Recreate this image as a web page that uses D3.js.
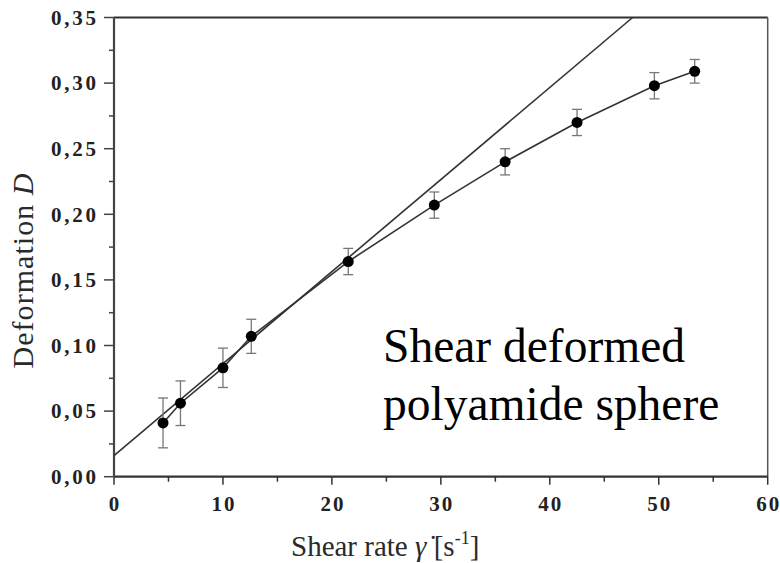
<!DOCTYPE html>
<html>
<head>
<meta charset="utf-8">
<script src="https://cdn.jsdelivr.net/npm/d3@7"></script>
<style>
	body { margin: 0; background: #fff; }
	svg { display: block; }
	.tick-label { font-family: 'Liberation Serif', 'Times New Roman', serif; font-weight: bold; fill: #222; }
	.axis-title { font-family: 'Liberation Serif', 'Times New Roman', serif; fill: #2a2a2a; }
</style>
</head>
<body>
<div id="chart"></div>
<script>

// measured points (shear rate in 1/s, deformation D, error bar half height)
var shearRate = [4.5, 6.1, 10.0, 12.6, 21.5, 29.4, 35.9, 42.5, 49.6, 53.3];
var deformation = [0.041, 0.056, 0.083, 0.107, 0.164, 0.207, 0.240, 0.270, 0.298, 0.309];
var deformErr = [0.019, 0.017, 0.015, 0.013, 0.010, 0.010, 0.010, 0.010, 0.010, 0.009];

// straight line fit, from the y axis to where it leaves the frame
var fitShear = [0, 47.6];
var fitDeform = [0.016, 0.35];

var xTicks = [0, 10, 20, 30, 40, 50, 60];
var yTicks = [0, 0.05, 0.10, 0.15, 0.20, 0.25, 0.30, 0.35];

var W = 780, H = 563;
var margin = {top: 17.5, right: 12.3, bottom: 86.3, left: 114};
var w = W - margin.left - margin.right,
	h = H - margin.top - margin.bottom;

var svg = d3.select('#chart').append('svg')
	.attr('width', W)
	.attr('height', H);

var g = svg.append('g')
	.attr('transform', 'translate(' + margin.left + ',' + margin.top + ')');

var x = d3.scaleLinear().domain([0, 60]).range([0, w]);
var y = d3.scaleLinear().domain([0, 0.35]).range([h, 0]);

var comma = d3.formatLocale({decimal: ',', thousands: '.', grouping: [3], currency: ['', '']}).format('.2f');

// frame (top and right sides are plain)
g.append('line')
	.attr('x1', 0).attr('x2', w).attr('y1', 0).attr('y2', 0)
	.attr('stroke', '#333').attr('stroke-width', 2);
g.append('line')
	.attr('x1', w).attr('x2', w).attr('y1', 0).attr('y2', h)
	.attr('stroke', '#555').attr('stroke-width', 1.5);

// x axis
var xAxis = g.append('g').attr('transform', 'translate(0,' + h + ')');
xAxis.append('line')
	.attr('x1', 0).attr('x2', w)
	.attr('stroke', '#333').attr('stroke-width', 2.2);
xAxis.selectAll('.minor')
	.data(d3.range(5, 60, 10))
	.enter().append('line')
	.attr('x1', x).attr('x2', x)
	.attr('y1', 0).attr('y2', 5)
	.attr('stroke', '#333').attr('stroke-width', 1.5);
xAxis.selectAll('.major')
	.data(xTicks)
	.enter().append('line')
	.attr('x1', x).attr('x2', x)
	.attr('y1', 0).attr('y2', 8)
	.attr('stroke', '#333').attr('stroke-width', 1.5);
xAxis.selectAll('text')
	.data(xTicks)
	.enter().append('text')
	.attr('class', 'tick-label')
	.attr('x', x)
	.attr('y', 34)
	.attr('text-anchor', 'middle')
	.attr('textLength', function(d) { return String(d).length * 11.5; })
	.style('font-size', '21px')
	.text(function(d) { return d; });

// y axis
var yAxis = g.append('g');
yAxis.append('line')
	.attr('y1', 0).attr('y2', h)
	.attr('stroke', '#444').attr('stroke-width', 2.2);
yAxis.selectAll('.minor')
	.data(d3.range(0.025, 0.35, 0.05))
	.enter().append('line')
	.attr('x1', -5).attr('x2', 0)
	.attr('y1', y).attr('y2', y)
	.attr('stroke', '#444').attr('stroke-width', 1.5);
yAxis.selectAll('.major')
	.data(yTicks)
	.enter().append('line')
	.attr('x1', -10).attr('x2', 0)
	.attr('y1', y).attr('y2', y)
	.attr('stroke', '#444').attr('stroke-width', 1.5);
yAxis.selectAll('text')
	.data(yTicks)
	.enter().append('text')
	.attr('class', 'tick-label')
	.attr('x', -18)
	.attr('y', y)
	.attr('dy', '.35em')
	.attr('text-anchor', 'end')
	.attr('textLength', 45)
	.style('font-size', '21px')
	.text(comma);

// fit line
var line = d3.line()
	.x(function(d) { return x(d[0]); })
	.y(function(d) { return y(d[1]); });

g.append('path')
	.datum(d3.zip(fitShear, fitDeform))
	.attr('d', line)
	.attr('fill', 'none')
	.attr('stroke', '#333')
	.attr('stroke-width', 1.6);

var pts = d3.zip(shearRate, deformation, deformErr);

g.append('path')
	.datum(pts)
	.attr('d', line)
	.attr('fill', 'none')
	.attr('stroke', '#333')
	.attr('stroke-width', 1.6);

// error bars
var bars = g.selectAll('.err')
	.data(pts)
	.enter().append('g')
	.attr('class', 'err')
	.attr('stroke', '#777')
	.attr('stroke-width', 1.3);

bars.append('line')
	.attr('x1', function(d) { return x(d[0]); })
	.attr('x2', function(d) { return x(d[0]); })
	.attr('y1', function(d) { return y(d[1] - d[2]); })
	.attr('y2', function(d) { return y(d[1] + d[2]); });
bars.append('line')
	.attr('x1', function(d) { return x(d[0]) - 5; })
	.attr('x2', function(d) { return x(d[0]) + 5; })
	.attr('y1', function(d) { return y(d[1] + d[2]); })
	.attr('y2', function(d) { return y(d[1] + d[2]); });
bars.append('line')
	.attr('x1', function(d) { return x(d[0]) - 5; })
	.attr('x2', function(d) { return x(d[0]) + 5; })
	.attr('y1', function(d) { return y(d[1] - d[2]); })
	.attr('y2', function(d) { return y(d[1] - d[2]); });

g.selectAll('.dot')
	.data(pts)
	.enter().append('circle')
	.attr('class', 'dot')
	.attr('cx', function(d) { return x(d[0]); })
	.attr('cy', function(d) { return y(d[1]); })
	.attr('r', 5.5)
	.attr('fill', '#000');

// axis titles
var xt = svg.append('text')
	.attr('class', 'axis-title')
	.attr('x', 291)
	.attr('y', 556)
	.style('font-size', '29px');
xt.append('tspan').text('Shear rate ');
xt.append('tspan').style('font-style', 'italic').text('\u03b3\u0307\u00a0');
xt.append('tspan').text('[s');
xt.append('tspan').attr('dy', -12).style('font-size', '18px').text('-1');
xt.append('tspan').attr('dy', 12).text(']');

var yt = svg.append('text')
	.attr('class', 'axis-title')
	.attr('transform', 'translate(33,271) rotate(-90)')
	.attr('text-anchor', 'middle')
	.attr('textLength', 195)
	.style('font-size', '30px');
yt.append('tspan').text('Deformation ');
yt.append('tspan').style('font-style', 'italic').text('D');

// annotation
var note = svg.append('text')
	.attr('x', 383)
	.attr('y', 362)
	.style('font-family', "'Liberation Serif', 'Times New Roman', serif")
	.style('font-size', '47.5px')
	.attr('fill', '#000');
note.append('tspan').text('Shear deformed');
note.append('tspan').attr('x', 383).attr('dy', 58).text('polyamide sphere');

</script>
</body>
</html>
